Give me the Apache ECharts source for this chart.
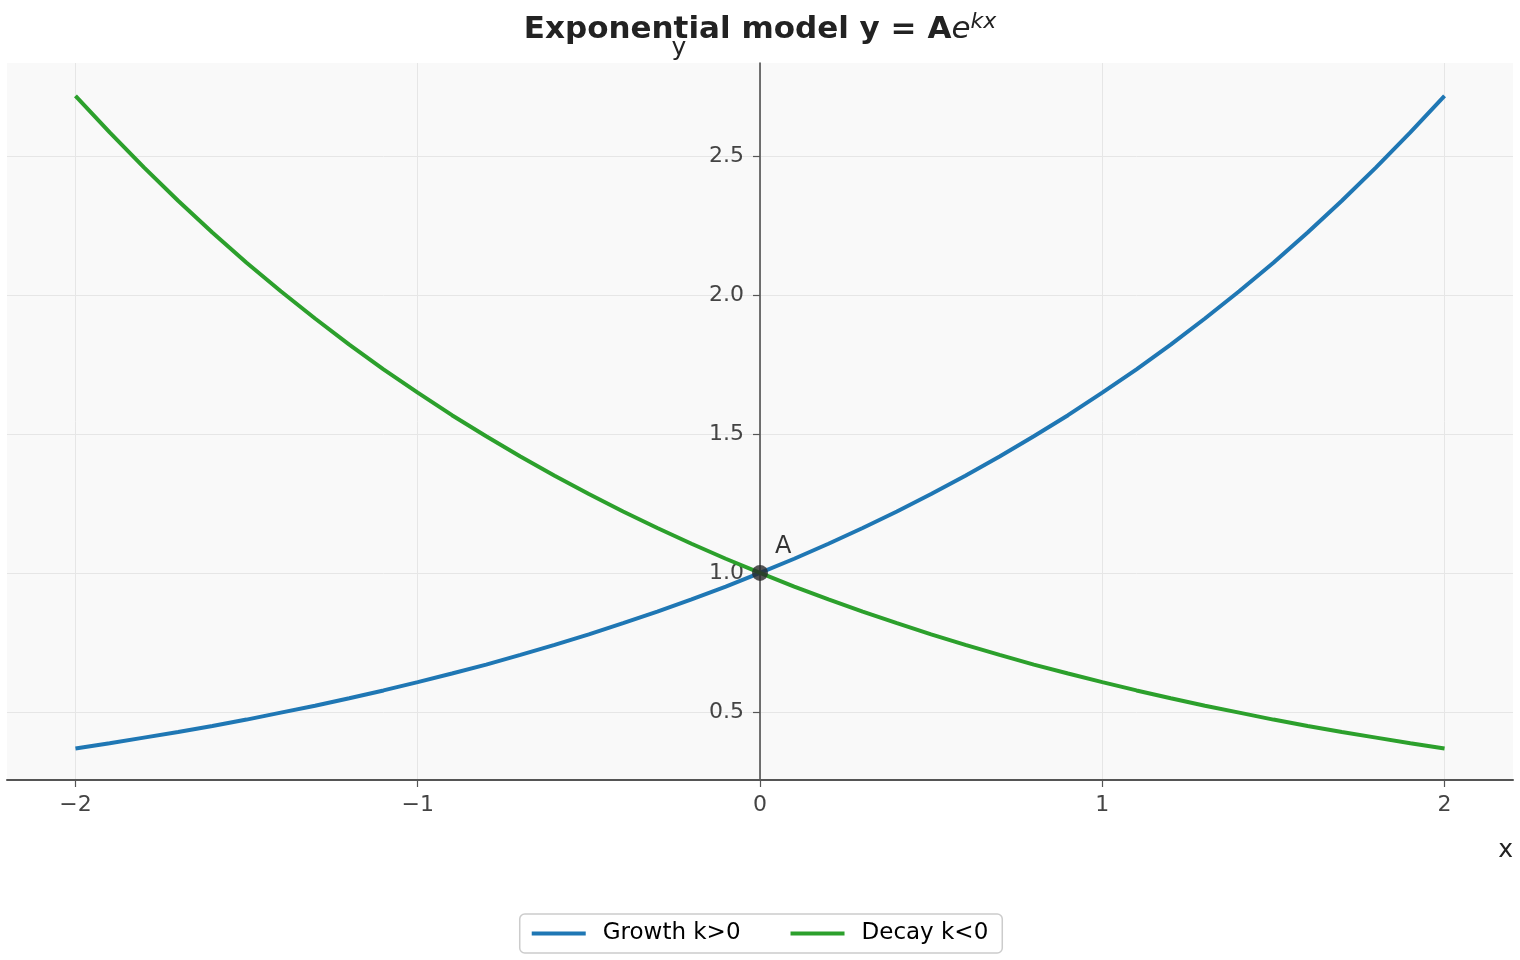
<!DOCTYPE html>
<html>
<head>
<meta charset="utf-8">
<script src="https://cdn.jsdelivr.net/npm/echarts@6/dist/echarts.min.js"></script>
<style>
  html, body { margin: 0; padding: 0; background: #fff; }
  #chart { width: 1520px; height: 960px; }
</style>
</head>
<body>
<div id="chart"></div>
<script>
// x positions
const xValues = [-2.0, -1.9, -1.8, -1.7, -1.6, -1.5, -1.4, -1.3, -1.2, -1.1, -1.0,
  -0.9, -0.8, -0.7, -0.6, -0.5, -0.4, -0.3, -0.2, -0.1, 0.0,
  0.1, 0.2, 0.3, 0.4, 0.5, 0.6, 0.7, 0.8, 0.9, 1.0,
  1.1, 1.2, 1.3, 1.4, 1.5, 1.6, 1.7, 1.8, 1.9, 2.0];

const growthValues = [0.368, 0.387, 0.407, 0.427, 0.449, 0.472, 0.497, 0.522, 0.549, 0.577, 0.607,
  0.638, 0.670, 0.705, 0.741, 0.779, 0.819, 0.861, 0.905, 0.951, 1.000,
  1.051, 1.105, 1.162, 1.221, 1.284, 1.350, 1.419, 1.492, 1.568, 1.649,
  1.733, 1.822, 1.916, 2.014, 2.117, 2.226, 2.340, 2.460, 2.586, 2.718];

const decayValues = [2.718, 2.586, 2.460, 2.340, 2.226, 2.117, 2.014, 1.916, 1.822, 1.733, 1.649,
  1.568, 1.492, 1.419, 1.350, 1.284, 1.221, 1.162, 1.105, 1.051, 1.000,
  0.951, 0.905, 0.861, 0.819, 0.779, 0.741, 0.705, 0.670, 0.638, 0.607,
  0.577, 0.549, 0.522, 0.497, 0.472, 0.449, 0.427, 0.407, 0.387, 0.368];

const xTicks = [-2, -1, 0, 1, 2];
const yTicks = [0.5, 1.0, 1.5, 2.0, 2.5];
const pointA = [0, 1];

const fontFamily = 'DejaVu Sans';

// plot box, the y spine sits at x = 0 (middle of a symmetric range)
const gridLeft = 7;
const gridRight = 7;
const plotWidth = 1520 - gridLeft - gridRight;

const chart = echarts.init(document.getElementById('chart'));

chart.setOption({
  animation: false,
  textStyle: { fontFamily: fontFamily },
  title: {
    text: 'Exponential model y = A{e|e}{sup|kx}',
    left: 'center',
    top: 6,
    textStyle: {
      fontFamily: fontFamily,
      fontSize: 31,
      fontWeight: 'bold',
      color: '#222',
      rich: {
        e: { fontFamily: fontFamily, fontSize: 31, fontStyle: 'italic', fontWeight: 'normal', color: '#222' },
        sup: { fontFamily: fontFamily, fontSize: 22, fontStyle: 'italic', fontWeight: 'normal', color: '#222', verticalAlign: 'top', padding: [0, 0, 16, 0] }
      }
    }
  },
  legend: {
    bottom: 7,
    left: 'center',
    itemWidth: 54,
    itemHeight: 4,
    itemGap: 50,
    padding: [8, 14, 8, 12],
    borderColor: '#cccccc',
    borderWidth: 1.5,
    borderRadius: 5,
    textStyle: { fontSize: 23, color: '#000', fontFamily: fontFamily, padding: [0, 0, 0, 12] },
    data: [
      { name: 'Growth k>0', icon: 'rect' },
      { name: 'Decay k<0', icon: 'rect' }
    ]
  },
  grid: {
    left: gridLeft,
    right: gridRight,
    top: 63,
    bottom: 180,
    containLabel: false,
    outerBoundsMode: 'none',
    show: true,
    backgroundColor: '#f9f9f9',
    borderWidth: 0
  },
  xAxis: {
    type: 'value',
    min: -2.2,
    max: 2.2,
    name: 'x',
    nameLocation: 'end',
    nameGap: 0,
    nameTextStyle: { fontSize: 25, color: '#222', align: 'right', verticalAlign: 'top', padding: [58, 0, 0, 0] },
    axisLine: { onZero: false, lineStyle: { color: '#555', width: 2 } },
    axisTick: { show: true, customValues: xTicks, length: 7, lineStyle: { color: '#555', width: 1.2 } },
    axisLabel: {
      customValues: xTicks,
      fontSize: 22,
      color: '#444',
      margin: 14,
      formatter: v => (v < 0 ? '\u2212' + Math.abs(v) : String(v))
    },
    splitLine: { show: true, lineStyle: { color: '#e6e6e6', width: 1 } }
  },
  yAxis: {
    type: 'value',
    min: 0.2545,
    max: 2.836,
    position: 'left',
    offset: -plotWidth / 2,
    name: 'y',
    nameLocation: 'end',
    nameGap: 2,
    nameTextStyle: { fontSize: 25, color: '#222', align: 'center', padding: [0, 162, 0, 0] },
    axisLine: { show: true, onZero: false, lineStyle: { color: '#444', width: 1.5 } },
    axisTick: { show: true, customValues: yTicks, length: 7, lineStyle: { color: '#555', width: 1.2 } },
    axisLabel: {
      customValues: yTicks,
      fontSize: 22,
      color: '#444',
      margin: 16,
      formatter: v => v.toFixed(1)
    },
    splitLine: { show: true, lineStyle: { color: '#e6e6e6', width: 1 } }
  },
  series: [
    {
      name: 'Growth k>0',
      type: 'line',
      data: xValues.map((x, i) => [x, growthValues[i]]),
      showSymbol: false,
      color: '#1f77b4',
      lineStyle: { width: 4, color: '#1f77b4' },
      z: 3
    },
    {
      name: 'Decay k<0',
      type: 'line',
      data: xValues.map((x, i) => [x, decayValues[i]]),
      showSymbol: false,
      color: '#2ca02c',
      lineStyle: { width: 4, color: '#2ca02c' },
      z: 3
    },
    {
      name: 'A',
      type: 'scatter',
      data: [pointA],
      symbolSize: 16,
      itemStyle: { color: '#2b2b2b' },
      label: {
        show: true,
        formatter: 'A',
        position: [23, -30],
        fontSize: 24,
        color: '#000'
      },
      z: 5
    }
  ]
});
</script>
</body>
</html>
